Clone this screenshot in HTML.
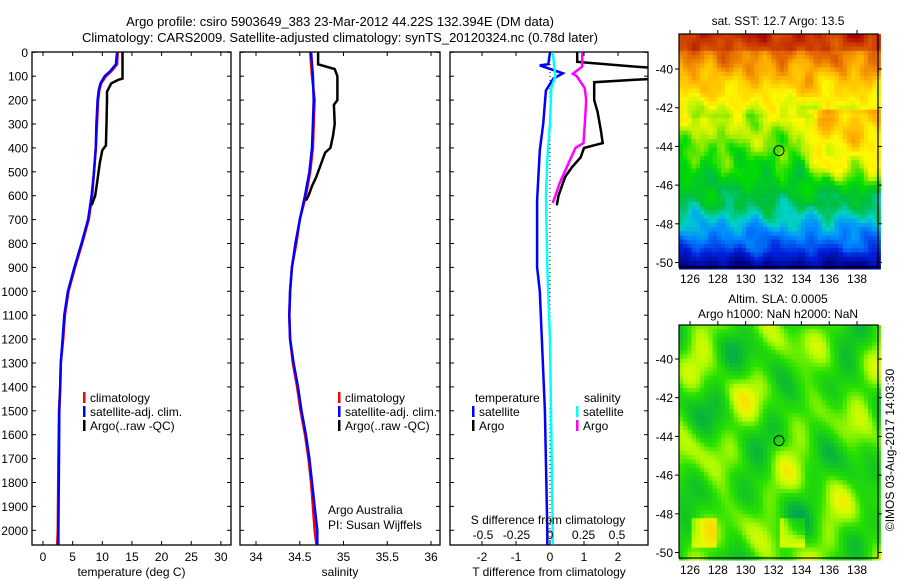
<!DOCTYPE html>
<html><head><meta charset="utf-8"><style>
body{margin:0;background:#fff}
svg{display:block;font-family:"Liberation Sans",sans-serif}
</style></head><body>
<svg id="c" width="900" height="580" viewBox="0 0 900 580" xmlns="http://www.w3.org/2000/svg">
<text x="340" y="26" font-size="13" text-anchor="middle">Argo profile: csiro 5903649_383 23-Mar-2012 44.22S 132.394E (DM data)</text>
<text x="340" y="42" font-size="13" text-anchor="middle">Climatology: CARS2009. Satellite-adjusted climatology: synTS_20120324.nc (0.78d later)</text>
<g id="plots"></g>
</svg>
<script>
// ---------- data ----------
const depthT = [0,50,80,100,130,160,200,300,400,500,600,700,800,900,1000,1100,1200,1300,1400,1500,1700,2000,2060];
const climT  = [12.6,12.5,11.5,10.6,9.8,9.5,9.3,9.1,8.9,8.6,8.3,7.7,6.6,5.4,4.3,3.7,3.4,3.0,2.9,2.7,2.6,2.5,2.4];
const satT   = [12.5,12.3,11.3,10.4,9.7,9.4,9.2,9.0,8.9,8.6,8.2,7.6,6.5,5.3,4.2,3.6,3.3,3.0,2.9,2.75,2.7,2.6,2.6];
const depthA = [0,110,115,130,165,200,300,390,410,460,530,600,640];
const argoT  = [13.4,13.4,12.7,11.5,10.8,10.8,10.7,10.6,10.0,9.6,9.2,8.8,8.2];
const depthS = [0,100,200,300,400,500,600,700,800,900,1000,1100,1200,1300,1400,1500,1600,1700,1800,1900,2000,2060];
const climS  = [34.62,34.64,34.67,34.66,34.65,34.62,34.57,34.5,34.46,34.41,34.39,34.38,34.39,34.42,34.47,34.51,34.56,34.6,34.63,34.65,34.67,34.69];
const satS   = [34.63,34.65,34.66,34.65,34.64,34.61,34.56,34.5,34.45,34.41,34.39,34.38,34.39,34.43,34.48,34.52,34.57,34.61,34.64,34.67,34.7,34.7];
const depthAS= [0,50,70,100,200,220,300,350,400,420,480,520,560,600,620];
const argoS  = [34.71,34.71,34.9,34.93,34.93,34.89,34.9,34.88,34.85,34.79,34.73,34.69,34.64,34.6,34.57];
const depthD = [0,50,55,88,110,160,300,410,620,900,1000,1500,2000,2060];
const satDT  = [0,-0.05,-0.3,0.38,0.1,-0.12,-0.2,-0.3,-0.38,-0.38,-0.3,-0.15,-0.08,-0.08];
const depthAD= [0,40,60,80,100,115,125,200,250,330,380,400,440,480,520,560,600,640];
const argoDT = [0.8,0.8,2.5,4.5,4.5,2.5,1.3,1.3,1.4,1.5,1.55,1.0,0.9,0.65,0.45,0.35,0.25,0.2];
const depthDS= [0,100,150,300,450,600,900,1200,1800,2000,2060];
const satDS  = [0.02,0.04,0.01,0,-0.02,-0.03,-0.02,0,0.015,0.02,0.02];
const depthADS=[0,60,90,100,150,200,300,380,400,450,500,550,600,630];
const argoDS = [0.24,0.24,0.17,0.2,0.26,0.27,0.26,0.25,0.19,0.15,0.11,0.07,0.04,0.02];
const depthTicks=[0,100,200,300,400,500,600,700,800,900,1000,1100,1200,1300,1400,1500,1600,1700,1800,1900,2000];
const tTicks=[0,5,10,15,20,25,30];
const sTicks=[34,34.5,35,35.5,36];
const dtTicks=[-2,-1,0,1,2];
const dsTicks=[-0.5,-0.25,0,0.25,0.5];
const latTicks=[-40,-42,-44,-46,-48,-50];
const lonTicks=[126,128,130,132,134,136,138];
const argoPos=[132.394,-44.22];

const NS='http://www.w3.org/2000/svg';
const root=document.getElementById('plots');
function el(t,a,p){const e=document.createElementNS(NS,t);for(const k in a)e.setAttribute(k,a[k]);(p||root).appendChild(e);return e;}
function txt(x,y,s,anchor,size,p){const e=el('text',{x:x,y:y,'font-size':size||12,'text-anchor':anchor||'middle'},p);e.textContent=s;return e;}
const y=d=>52.3+d*0.239;
const TOP=52,BOT=545;
const xT=v=>43+v*5.93, xS=v=>256+(v-34)*87.5, xD=v=>550+v*34, xDS=v=>550+v*134;

function line(xs,ds,xf,col,w,name,clip){
  const p=xs.map((v,i)=>xf(v).toFixed(1)+','+y(ds[i]).toFixed(1)).join(' ');
  const e=el('polyline',{points:p,fill:'none',stroke:col,'stroke-width':w,'stroke-linejoin':'miter'});
  if(clip)e.setAttribute('clip-path',clip);
  
  
}
function panel(x0,x1,ticks,xf,lab,name,showY){
  const g=el('g',{});
  
  
  el('rect',{x:x0,y:TOP,width:x1-x0,height:BOT-TOP,fill:'none',stroke:'#000','stroke-width':1.3},g);
  depthTicks.forEach(d=>{el('line',{x1:x0,x2:x0+4,y1:y(d),y2:y(d),stroke:'#000'},g);el('line',{x1:x1-4,x2:x1,y1:y(d),y2:y(d),stroke:'#000'},g);
    if(showY){const t=txt(28,y(d)+4.5,String(d),'end',12,g);}});
  ticks.forEach(v=>{const xx=xf(v);el('line',{x1:xx,x2:xx,y1:BOT,y2:BOT-4,stroke:'#000'},g);el('line',{x1:xx,x2:xx,y1:TOP,y2:TOP+4,stroke:'#000'},g);
    const t=txt(xx,561,String(v),'middle',12,g);});
  const t=txt((x0+x1)/2,576,lab,'middle',12,g);
}
panel(32,231,tTicks,xT,'temperature (deg C)','temperature-panel',true);
panel(240,440,sTicks,xS,'salinity','salinity-panel',false);
panel(450,648,dtTicks,xD,'T difference from climatology','difference-panel',false);

const cp=el('clipPath',{id:'cp3'});el('rect',{x:450,y:TOP,width:198,height:BOT-TOP},cp);

line(climT,depthT,xT,'#ff0000',2.5,'temp-climatology-line');
line(satT,depthT,xT,'#0000ff',2.5,'temp-satellite-line');
line(argoT,depthA,xT,'#000000',2.5,'temp-argo-line');
line(climS,depthS,xS,'#ff0000',2.5,'sal-climatology-line');
line(satS,depthS,xS,'#0000ff',2.5,'sal-satellite-line');
line(argoS,depthAS,xS,'#000000',2.5,'sal-argo-line');
el('line',{x1:550,x2:550,y1:TOP,y2:BOT,stroke:'#000','stroke-dasharray':'1,3'});
line(satDT,depthD,xD,'#0000ff',2.5,'tdiff-satellite-line','url(#cp3)');
line(argoDT,depthAD,xD,'#000000',2.5,'tdiff-argo-line','url(#cp3)');
line(satDS,depthDS,xDS,'#00ffff',2.5,'sdiff-satellite-line','url(#cp3)');
line(argoDS,depthADS,xDS,'#ff00ff',2.5,'sdiff-argo-line','url(#cp3)');
dsTicks.forEach(v=>{const t=txt(xDS(v),539,String(v),'middle',12);});
{const t=txt(548,524,'S difference from climatology','middle',12);}

function leg(x,yy,col,label,name){
  if(col){el('rect',{x:x,y:yy-10,width:2.5,height:11,fill:col});}
  const t=txt(x+7,yy,label,'start',12);
  
  
}
leg(83,402,'#ff0000','climatology','legend-climatology');
leg(83,416,'#0000ff','satellite-adj. clim.','legend-satellite');
leg(83,430,'#000','Argo(..raw -QC)','legend-argo');
leg(338,402,'#ff0000','climatology','legend2-climatology');
leg(338,416,'#0000ff','satellite-adj. clim.','legend2-satellite');
leg(338,430,'#000','Argo(..raw -QC)','legend2-argo');
{const t=txt(328,514,'Argo Australia','start',12);
 const t2=txt(328,529,'PI: Susan Wijffels','start',12);}
{const t=txt(475,402,'temperature','start',12);}
leg(472,416,'#0000ff','satellite','legend-t-satellite');
leg(472,430,'#000','Argo','legend-t-argo');
{const t=txt(584,402,'salinity','start',12);}
leg(576,416,'#00ffff','satellite','legend-s-satellite');
leg(576,430,'#ff00ff','Argo','legend-s-argo');

// ---------- maps ----------
function lerpC(stops,t){t=Math.max(0,Math.min(1,t));for(let i=1;i<stops.length;i++){if(t<=stops[i][0]){const a=stops[i-1],b=stops[i],f=(t-a[0])/(b[0]-a[0]);return 'rgb('+[0,1,2].map(k=>Math.round(a[1][k]+(b[1][k]-a[1][k])*f)).join(',')+')';}}return 'rgb('+stops[stops.length-1][1].join(',')+')';}
const jet=[[0,[0,0,128]],[0.15,[0,30,220]],[0.28,[0,140,255]],[0.36,[0,210,200]],[0.44,[0,190,60]],[0.52,[0,220,0]],[0.6,[180,240,0]],[0.66,[255,250,0]],[0.76,[255,180,0]],[0.86,[225,100,0]],[1,[170,0,0]]];
const sla=[[0,[0,160,90]],[0.3,[20,200,30]],[0.5,[40,225,0]],[0.7,[170,250,0]],[0.85,[230,250,0]],[1,[255,215,0]]];
function noise(a,b,s){return Math.sin(a*1.7+s)*Math.cos(b*2.3-s)+0.6*Math.sin(a*3.1+b*1.3+s*2)+0.4*Math.cos(a*5.3-b*4.1+s);}
function smooth(a,b,s){return Math.sin(a*0.9+s)*Math.cos(b*1.1-s*0.7)+0.7*Math.sin(a*1.45-b*0.6+s*1.9)+0.5*Math.cos(a*0.4+b*1.7+s*0.3)+0.35*Math.sin(a*2.3+b*2.1-s);}
function map(top,bottom,latY0,kind,title1,title2,name){
  const g=el('g',{});
  
  
  const X0=679,X1=878,lx=v=>690+(v-126)*13.92,ly=v=>latY0+(-40-v)*19.35;
  const cs=4.2;
  for(let py=top;py<bottom;py+=cs){for(let px=X0;px<X1;px+=cs){
    const lon=126+(px+cs/2-690)/13.92,lat=-40-(py+cs/2-latY0)/19.35;
    let c;
    if(kind==='sst'){
      let t=0.78+(lat+40)*0.07;
      if(lat<-42.5)t=0.63+(lat+42.5)*0.045;
      if(lat<-47)t=0.43+(lat+47)*0.1;
      if(lat<-49.3)t=0.2+(lat+49.3)*0.2;
      if(lat>-39)t=0.9+(lat+39)*0.05;
      const e=Math.max(0,Math.min(1,(lon-133.8)/1.5));
      if(lat<-42&&lat>-46.5)t+=0.12*e*Math.max(0,Math.min(1,(lat+46.5)/1.5));
      t+=0.03*smooth(lon*2,lat*2,1.3)+0.02*noise(lon,lat,0.4);
      c=lerpC(jet,t);
    } else {
      let t=0.5+0.2*smooth(lon,lat,0.7);
      if(lat<-48.2&&lat>-49.8&&((lon>126&&lon<128)||(lon>132.5&&lon<134.3)))t+=0.3;
      c=lerpC(sla,t);
    }
    el('rect',{x:px.toFixed(1),y:py.toFixed(1),width:cs+0.3,height:cs+0.3,fill:c},g);
  }}
  el('rect',{x:X0,y:top,width:X1-X0,height:bottom-top,fill:'none',stroke:'#000','stroke-width':1.2},g);
  latTicks.forEach(v=>{el('line',{x1:X0-4,x2:X0,y1:ly(v),y2:ly(v),stroke:'#000'},g);el('line',{x1:X1,x2:X1+4,y1:ly(v),y2:ly(v),stroke:'#000'},g);
    const t=txt(673,ly(v)+4.5,String(v),'end',12,g);});
  lonTicks.forEach(v=>{el('line',{x1:lx(v),x2:lx(v),y1:top,y2:top-4,stroke:'#000'},g);
    const t=txt(lx(v),bottom+16,String(v),'middle',12,g);});
  const m=el('circle',{cx:lx(argoPos[0]),cy:ly(argoPos[1]),r:5,fill:'none',stroke:'#000','stroke-width':1},g);
  
  const a=txt(778,top-(title2?22:9),title1,'middle',12,g);
  if(title2){const b=txt(778,top-7,title2,'middle',12,g);}
}
map(34,267,69,'sst','sat. SST: 12.7  Argo: 13.5',null,'sst-map');
map(325,558,359,'sla','Altim. SLA: 0.0005','Argo h1000: NaN h2000: NaN','sla-map');
{const t=txt(0,0,'©IMOS 03-Aug-2017 14:03:30','middle',12);t.setAttribute('transform','translate(894,450) rotate(-90)');
 }
</script>
</body></html>
